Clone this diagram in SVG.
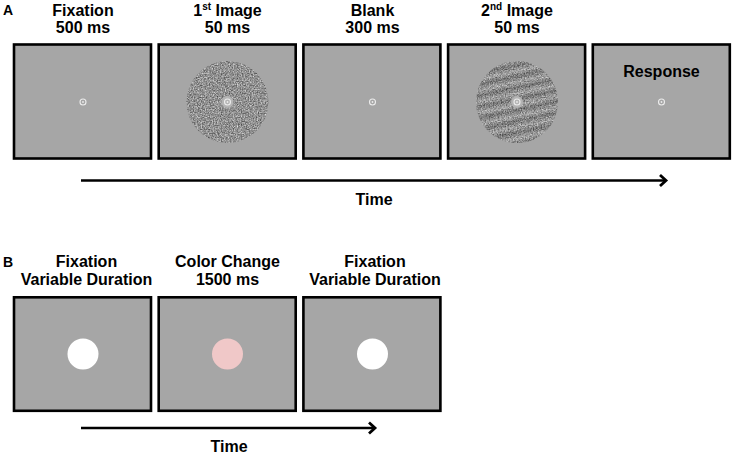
<svg xmlns="http://www.w3.org/2000/svg" width="733" height="455" viewBox="0 0 733 455">
<style>
.lbl{font-family:"Liberation Sans",Arial,sans-serif;font-weight:bold;font-size:16px;fill:#000;text-anchor:middle}
.pl{font-family:"Liberation Sans",Arial,sans-serif;font-weight:bold;font-size:14px;fill:#000}
.scr{fill:#a6a6a6;stroke:#000;stroke-width:2.6}
.fixring{fill:none;stroke:#ececec;stroke-width:1.1}
.fixdot{fill:#ececec}
.conn{stroke:#000;stroke-width:2.5;fill:none}
.head{stroke:#000;stroke-width:2.8;fill:none;stroke-linecap:butt;stroke-linejoin:miter}
</style>
<defs>
<filter id="noise" x="0" y="0" width="100%" height="100%" filterUnits="objectBoundingBox" color-interpolation-filters="sRGB">
<feTurbulence type="fractalNoise" baseFrequency="0.75" numOctaves="2" seed="4" result="t"/>
<feColorMatrix in="t" type="matrix" values="0.8 0 0 0 0.17 0.8 0 0 0 0.17 0.8 0 0 0 0.17 0 0 0 0 1"/>
</filter>
<clipPath id="disk1"><circle cx="227.5" cy="102" r="41"/></clipPath>
<clipPath id="disk2"><circle cx="517" cy="102" r="41"/></clipPath>
<linearGradient id="grating" gradientUnits="userSpaceOnUse" x1="0" y1="0" x2="0" y2="11" spreadMethod="repeat" gradientTransform="rotate(-12 517 102)">
<stop offset="0" stop-color="#000" stop-opacity="0.2"/>
<stop offset="0.5" stop-color="#fff" stop-opacity="0.16"/>
<stop offset="1" stop-color="#000" stop-opacity="0.2"/>
</linearGradient>
</defs>

<text class="pl" x="3" y="15">A</text>
<text class="pl" x="3" y="267">B</text>

<g id="a-fixation">
<text class="lbl" x="83" y="16">Fixation</text>
<text class="lbl" x="83" y="33">500 ms</text>
<rect class="scr" x="14" y="44.5" width="137" height="114"/>
<circle class="fixring" cx="83" cy="102" r="3"/><circle class="fixdot" cx="83" cy="102" r="0.9"/>
</g>

<g id="a-image1">
<text class="lbl" x="227.5" y="16">1<tspan font-size="10" dy="-6">st</tspan><tspan dy="6"> Image</tspan></text>
<text class="lbl" x="227.5" y="33">50 ms</text>
<rect class="scr" x="158.7" y="44.5" width="137" height="114"/>
<g clip-path="url(#disk1)"><rect x="185" y="60" width="85" height="85" filter="url(#noise)"/></g>
<circle cx="227.5" cy="102" r="6" fill="#b4b4b4"/>
<circle class="fixring" cx="227.5" cy="102" r="3"/><circle class="fixdot" cx="227.5" cy="102" r="0.9"/>
</g>

<g id="a-blank">
<text class="lbl" x="372.5" y="16">Blank</text>
<text class="lbl" x="372.5" y="33">300 ms</text>
<rect class="scr" x="303.4" y="44.5" width="137" height="114"/>
<circle class="fixring" cx="372.5" cy="102" r="3"/><circle class="fixdot" cx="372.5" cy="102" r="0.9"/>
</g>

<g id="a-image2">
<text class="lbl" x="517" y="16">2<tspan font-size="10" dy="-6">nd</tspan><tspan dy="6"> Image</tspan></text>
<text class="lbl" x="517" y="33">50 ms</text>
<rect class="scr" x="448.1" y="44.5" width="137" height="114"/>
<g clip-path="url(#disk2)"><rect x="475" y="60" width="85" height="85" filter="url(#noise)"/><rect x="475" y="60" width="85" height="85" fill="url(#grating)"/></g>
<circle cx="517" cy="102" r="6" fill="#b4b4b4"/>
<circle class="fixring" cx="517" cy="102" r="3"/><circle class="fixdot" cx="517" cy="102" r="0.9"/>
</g>

<g id="a-response">
<rect class="scr" x="592.8" y="44.5" width="137" height="114"/>
<text class="lbl" x="661.5" y="77">Response</text>
<circle class="fixring" cx="661.5" cy="102" r="3"/><circle class="fixdot" cx="661.5" cy="102" r="0.9"/>
</g>

<g id="b-fixation1">
<text class="lbl" x="86.5" y="267">Fixation</text>
<text class="lbl" x="86.5" y="285">Variable Duration</text>
<rect class="scr" x="14" y="297.3" width="137" height="113.5"/>
<circle cx="83" cy="354" r="15.5" fill="#fff"/>
</g>

<g id="b-colorchange">
<text class="lbl" x="227.5" y="267">Color Change</text>
<text class="lbl" x="227.5" y="285">1500 ms</text>
<rect class="scr" x="158.7" y="297.3" width="137" height="113.5"/>
<circle cx="227.5" cy="354" r="15.5" fill="#f0c8c8"/>
</g>

<g id="b-fixation2">
<text class="lbl" x="375" y="267">Fixation</text>
<text class="lbl" x="375" y="285">Variable Duration</text>
<rect class="scr" x="303.4" y="297.3" width="137" height="113.5"/>
<circle cx="372.5" cy="354" r="15.5" fill="#fff"/>
</g>

<g id="connectors">
<line class="conn" x1="81" y1="180.5" x2="665" y2="180.5"/>
<polyline class="head" points="660,175 666,180.5 660,186"/>
<line class="conn" x1="81" y1="428" x2="374" y2="428"/>
<polyline class="head" points="369,422.5 375,428 369,433.5"/>
</g>
<text class="lbl" x="374" y="205">Time</text>
<text class="lbl" x="229" y="452">Time</text>
</svg>
